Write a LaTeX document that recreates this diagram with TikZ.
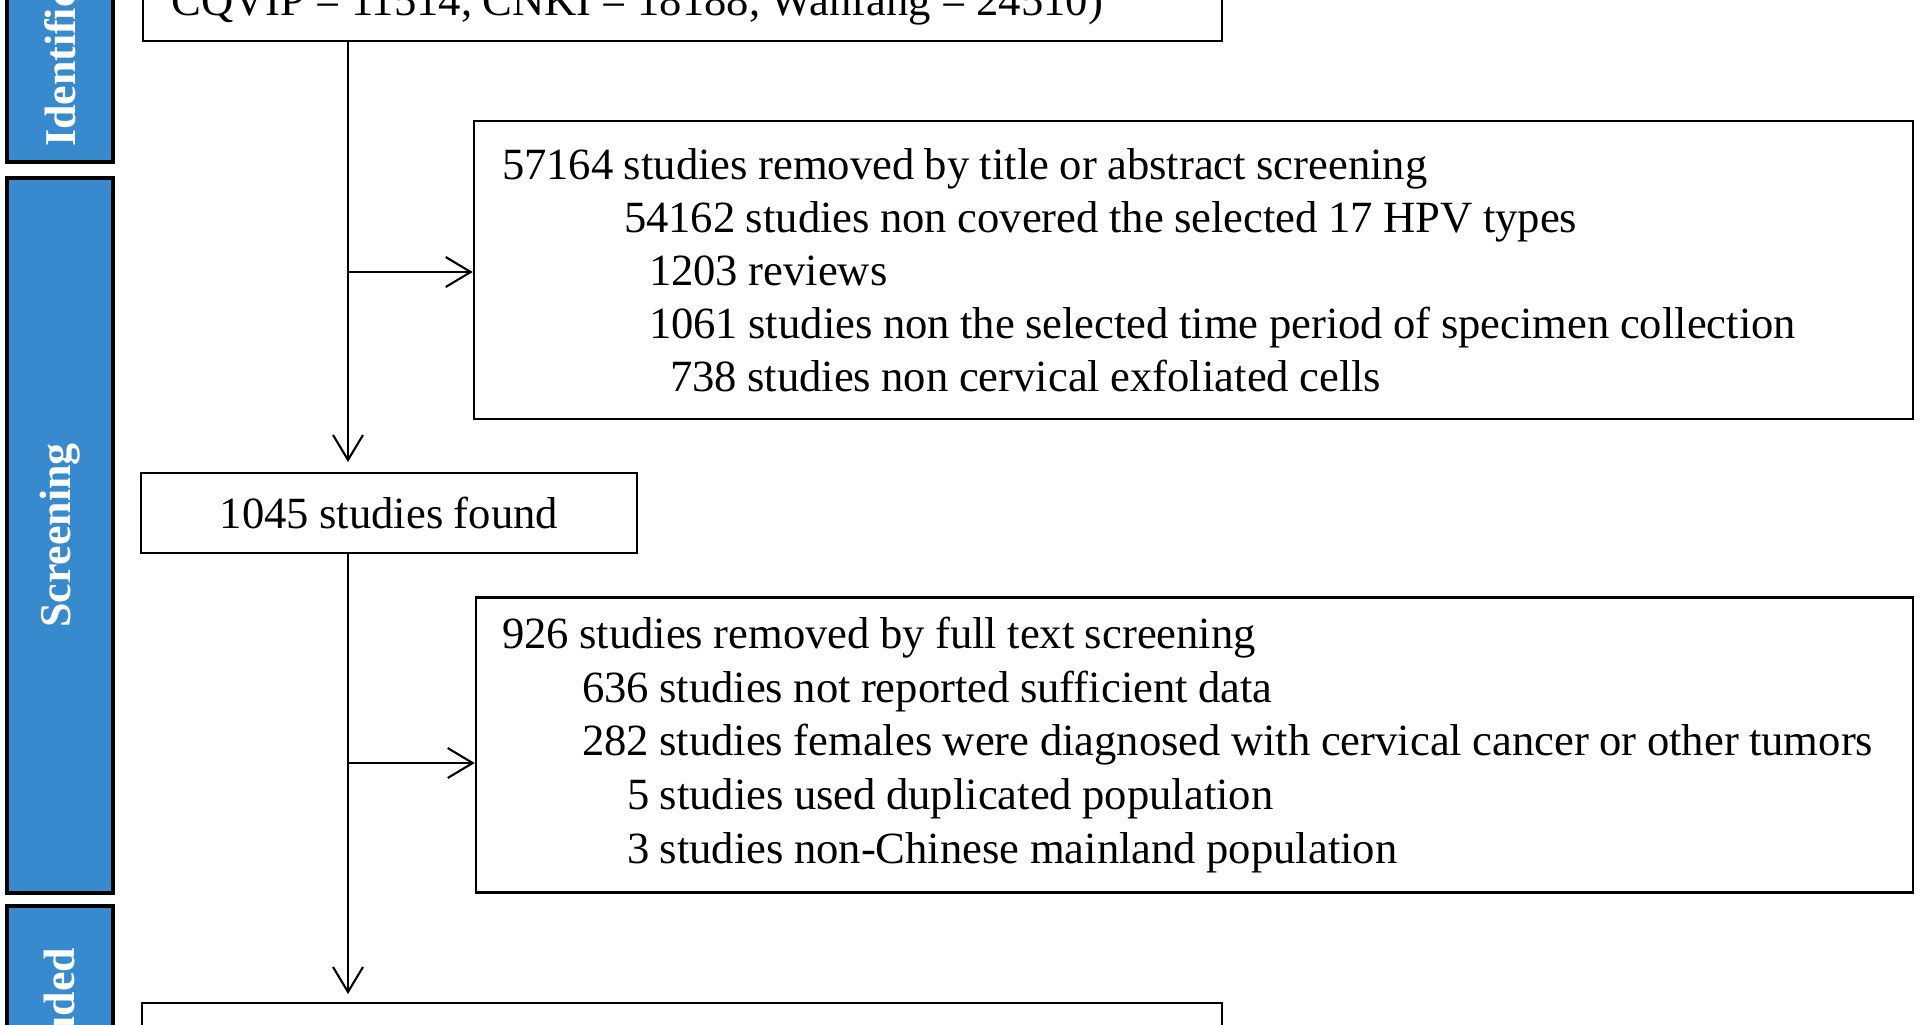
\documentclass[tikz,border=0pt]{standalone}
\usepackage{fontspec}
\setmainfont[WordSpace=0.93]{Liberation Serif}
\usetikzlibrary{arrows.meta,positioning}
\definecolor{phaseblue}{RGB}{55,138,205}

\begin{document}
\begin{tikzpicture}[font=\fontsize{12.7pt}{15.1pt}\selectfont,
    box/.style={draw,line width=0.7pt,inner ysep=0pt},
    txtbox/.style={box,align=flush left,inner xsep=0.28cm},
    phase/.style={draw,line width=0.9pt,fill=phaseblue,text=white,font=\fontsize{12.5pt}{15pt}\selectfont\bfseries,rotate=90,minimum height=1.06cm},
    arr/.style={-{Straight Barb[length=0.25cm,width=0.3cm]},line width=0.6pt}]
\useasboundingbox (0,0) rectangle (19.20,-10.24);
% phases on the left
\node[phase,minimum width=2.84cm] (pident) at (0.60,-0.20) {Identification};
\node[phase,minimum width=7.15cm] (pscreen) at (0.60,-5.355) {Screening};
\node[phase,minimum width=2.50cm] (pincl) at (0.60,-10.31) {Included};
% flow boxes
\node[txtbox,anchor=south west,text width=10.23cm,text height=1.5cm,text depth=0.25cm] (records) at (1.42,-0.42) {CQVIP = 11514, CNKI = 18188, Wanfang = 24510)};
\node[txtbox,text width=13.83cm,minimum height=2.98cm] (screen1) at (11.935,-2.70) {57164 studies removed by title or abstract screening\\
\hspace*{1.22cm}54162 studies non covered the selected 17 HPV types\\
\hspace*{1.47cm}1203 reviews\\
\hspace*{1.47cm}1061 studies non the selected time period of specimen collection\\
\hspace*{1.68cm}738 studies non cervical exfoliated cells};
\node[box,minimum width=4.96cm,minimum height=0.80cm] (found) at (3.89,-5.13) {1045 studies found};
\node[txtbox,inner xsep=0.26cm,text width=13.85cm,minimum height=2.95cm,font=\fontsize{12.7pt}{15.3pt}\selectfont] (screen2) at (11.945,-7.45) {926 studies removed by full text screening\\
\hspace*{0.80cm}636 studies not reported sufficient data\\
\hspace*{0.80cm}282 studies females were diagnosed with cervical cancer or other tumors\\
\hspace*{1.25cm}5 studies used duplicated population\\
\hspace*{1.25cm}3 studies non-Chinese mainland population};
\node[box,anchor=north west,minimum width=10.80cm,minimum height=1cm] (incl) at (1.41,-10.02) {};
% connectors
\coordinate (top1) at (3.48,-0.42);
\coordinate (end1) at (3.48,-4.62);
\coordinate (br1) at (3.48,-2.72);
\coordinate (top2) at (3.48,-5.53);
\coordinate (end2) at (3.48,-9.94);
\coordinate (br2) at (3.48,-7.63);
\draw[arr] (top1) -- (end1);
\draw[arr] (br1) -- (br1 -| screen1.west);
\draw[arr] (top2) -- (end2);
\draw[arr] (br2) -- (br2 -| screen2.west);
\end{tikzpicture}
\end{document}
